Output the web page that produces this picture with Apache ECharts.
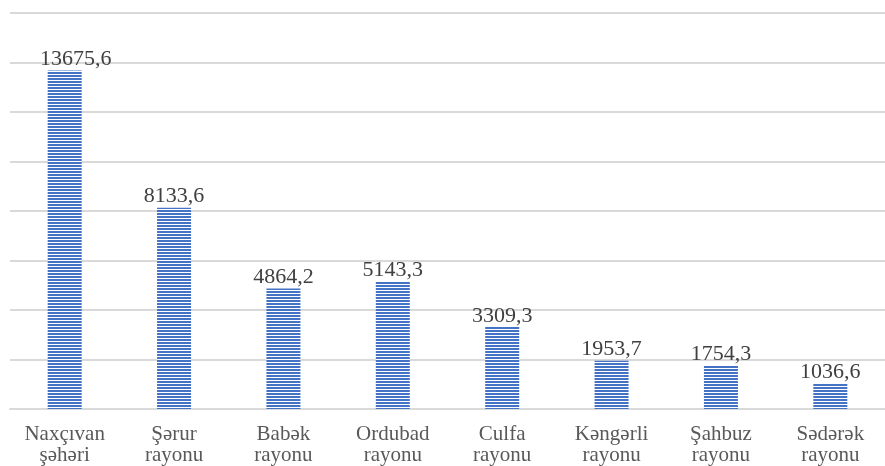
<!DOCTYPE html>
<html>
<head>
<meta charset="utf-8">
<script src="https://cdn.jsdelivr.net/npm/echarts@6/dist/echarts.min.js"></script>
<style>
    html, body { margin: 0; padding: 0; background: #fff; }
    #chart_con { width: 885px; height: 466px; }
</style>
</head>
<body>
<div id="chart_con"></div>
<script>
const categories = ['Naxçıvan\nşəhəri', 'Şərur\nrayonu', 'Babək\nrayonu', 'Ordubad\nrayonu',
    'Culfa\nrayonu', 'Kəngərli\nrayonu', 'Şahbuz\nrayonu', 'Sədərək\nrayonu'];
const values = [13675.6, 8133.6, 4864.2, 5143.3, 3309.3, 1953.7, 1754.3, 1036.6];
const yMax = 16000;
const yStep = 2000;

// horizontal stripes: 2px blue, 1px white
const stripe = document.createElement('canvas');
stripe.width = 4;
stripe.height = 3;
const ctx = stripe.getContext('2d');
ctx.fillStyle = '#ffffff';
ctx.fillRect(0, 0, 4, 3);
ctx.fillStyle = '#4472C4';
ctx.fillRect(0, 0, 4, 2);

const barData = values.map(function (v, i) {
    // first label sits a bit to the right in the original
    return i === 0 ? { value: v, label: { offset: [11, 0] } } : v;
});

const chart = echarts.init(document.getElementById('chart_con'));
const option = {
    animation: false,
    grid: {
        top: 13,
        left: 10,
        right: -8,
        bottom: 55
    },
    xAxis: {
        type: 'category',
        data: categories,
        axisLine: { lineStyle: { color: '#d9d9d9', width: 2 } },
        axisTick: { show: false },
        axisLabel: {
            color: '#595959',
            fontFamily: 'Liberation Serif',
            fontSize: 21,
            lineHeight: 21,
            margin: 15,
            interval: 0
        }
    },
    yAxis: {
        type: 'value',
        min: 0,
        max: yMax,
        interval: yStep,
        axisLine: { show: false },
        axisTick: { show: false },
        axisLabel: { show: false },
        splitLine: { lineStyle: { color: '#d9d9d9', width: 2 } }
    },
    series: [
        {
            type: 'bar',
            data: barData,
            barWidth: 34,
            itemStyle: {
                color: { image: stripe, repeat: 'repeat' }
            },
            label: {
                show: true,
                position: 'top',
                distance: 0,
                color: '#404040',
                fontFamily: 'Liberation Serif',
                fontSize: 22,
                formatter: function (p) {
                    return p.value.toFixed(1).replace('.', ',');
                }
            }
        }
    ]
};
chart.setOption(option);
</script>
</body>
</html>
